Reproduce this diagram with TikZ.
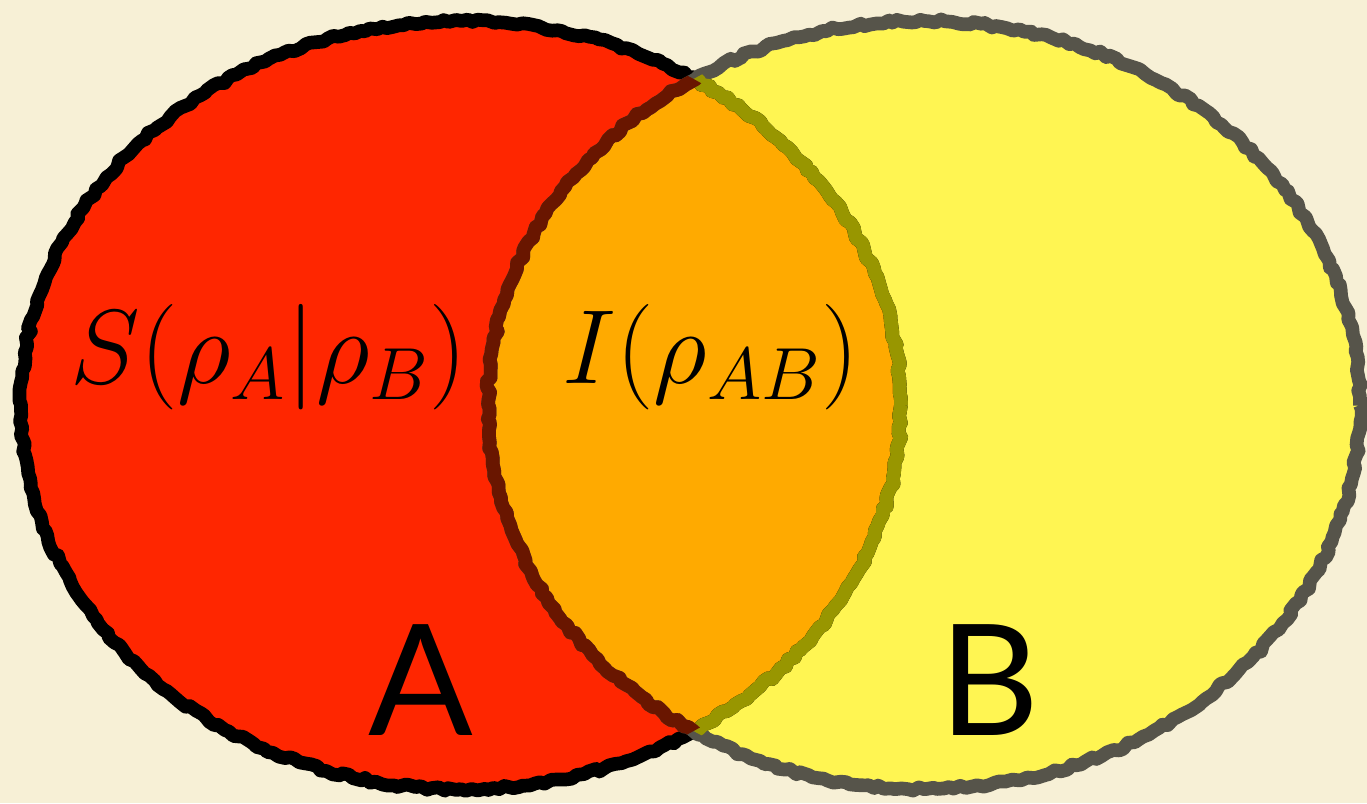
\documentclass[tikz,border=0pt]{standalone}
\usepackage{fix-cm}
\usepackage{amsmath,amssymb}
\usepackage{fontspec}
\newfontfamily\labfont{Lato}
\usepackage{tikz}
\usetikzlibrary{positioning,decorations.pathmorphing}
\definecolor{paper}{RGB}{247,240,214}
\definecolor{setA}{RGB}{255,38,0}
\definecolor{setB}{RGB}{255,245,82}
\definecolor{both}{RGB}{255,170,0}
\definecolor{rimB}{RGB}{86,84,74}
\definecolor{rimAB}{RGB}{152,150,0}
\definecolor{rimBA}{RGB}{105,22,0}
\tikzset{
  rough/.style={decorate,decoration={random steps,segment length=1.6pt,amplitude=0.55pt},
    line width=3.9pt,line join=round},
  mathlbl/.style={inner sep=0pt,font=\fontsize{30}{35}\selectfont},
  setlbl/.style={inner sep=0pt,font=\labfont\fontsize{44}{50}\selectfont},
}
\def\setApath{(461,405) ellipse [x radius=440,y radius=384]}
\def\setBpath{(924,405) ellipse [x radius=436,y radius=384]}
\begin{document}
\begin{tikzpicture}[x=0.01cm,y=-0.01cm]
\fill[paper] (0,0) rectangle (1367,803);
\useasboundingbox (0,0) rectangle (1367,803);
% the two sets
\fill[setA] \setApath;
\fill[setB] \setBpath;
\begin{scope}
  \clip \setApath;
  \fill[both] \setBpath;
\end{scope}
% outlines (same seed so the tinted arcs sit on the plain ones)
\pgfmathsetseed{17}
\draw[rough,black] \setApath;
\pgfmathsetseed{29}
\draw[rough,rimB] \setBpath;
\begin{scope}
  \clip \setBpath;
  \pgfmathsetseed{17}
  \draw[rough,rimAB] \setApath;
\end{scope}
\begin{scope}
  \clip \setApath;
  \pgfmathsetseed{29}
  \draw[rough,rimBA] \setBpath;
\end{scope}
% labels
\node[mathlbl] (cond) at (269,357) {$S(\rho_A|\rho_B)$};
\node[mathlbl] (mut) at (711,357) {$I(\rho_{AB})$};
\node[setlbl] (la) at (421,680) {A};
\node[setlbl] (lb) at (990,680) {B};
\end{tikzpicture}
\end{document}
